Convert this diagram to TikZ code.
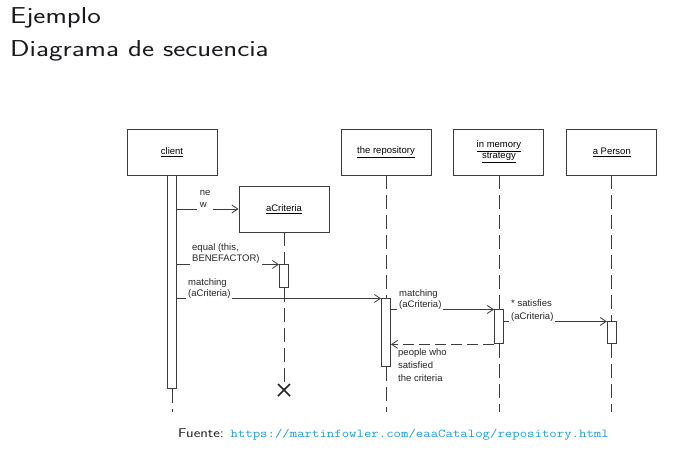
\documentclass[tikz,border=0pt]{standalone}
\usepackage{fontspec}
\usepackage{graphicx}
\usetikzlibrary{arrows.meta, positioning}
\newfontfamily\umlfont{Liberation Sans}
\definecolor{linegray}{RGB}{60,60,60}
\definecolor{urlcyan}{RGB}{25,160,220}
\definecolor{titleblack}{RGB}{25,25,30}
\newcommand{\wtxt}[1]{\scalebox{1.25}[1]{#1}}

\begin{document}
\begin{tikzpicture}[
  x=1pt, y=1pt,
  head/.style={
    rectangle, draw=linegray, fill=white, line width=0.9pt,
    minimum width=90pt, minimum height=46pt,
    font=\umlfont\fontsize{9.5}{11}\selectfont, align=center, inner sep=2pt},
  act/.style={rectangle, draw=linegray, fill=white, line width=0.9pt,
    minimum width=9pt, inner sep=0pt},
  msg/.style={-{Straight Barb[length=6pt,width=8pt]}, line width=0.8pt, linegray},
  ret/.style={msg, dash pattern=on 11pt off 5pt},
  life/.style={line width=0.8pt, linegray, dash pattern=on 14pt off 6pt},
  lbl/.style={font=\umlfont\fontsize{9.5}{11}\selectfont, text=black!85,
    align=left, anchor=base west, inner sep=2pt, fill=white}
]
  \useasboundingbox[fill=white] (0,0) rectangle (677,-448);
  % Title
  \node[anchor=base west, inner sep=0pt, text=titleblack,
    font=\sffamily\fontsize{23}{33}\selectfont, align=left] (title) at (10,-56)
    {\wtxt{Ejemplo}\\\wtxt{Diagrama de secuencia}};
  % Lifeline heads
  \node[head] (client) at (172,-152) {\underline{client}};
  \node[head] (repo) at (386,-152) {\underline{the repository}};
  \node[head, right=22pt of repo] (mem) {\underline{in memory}\\\underline{strategy}};
  \node[head, right=22pt of mem] (person) {\underline{a Person}};
  \node[head] (crit) at (284,-209) {\underline{aCriteria}};
  % Activations
  \node[act, minimum height=213pt, below=0pt of client] (clientA) {};
  \node[act, minimum height=23pt, below=32pt of crit] (critA) {};
  \node[act, minimum height=68pt, below=123pt of repo] (repoA) {};
  \node[act, minimum height=34pt, below=134pt of mem] (memA) {};
  \node[act, minimum height=22pt, below=146pt of person] (personA) {};
  \coordinate (bottom) at (0,-412);
  \coordinate (critX) at (critA |- 0,-390);
  % Lifelines
  \draw[life] (clientA.south) -- (clientA.south |- bottom);
  \draw[life] (crit) -- (critA.north);
  \draw[life] (critA.south) -- (critX);
  \draw[life] (repo) -- (repoA.north);
  \draw[life] (repoA.south) -- (repoA.south |- bottom);
  \draw[life] (mem) -- (memA.north);
  \draw[life] (memA.south) -- (memA.south |- bottom);
  \draw[life] (person) -- (personA.north);
  \draw[life] (personA.south) -- (personA.south |- bottom);
  \node[head] at (crit) {\underline{aCriteria}};
  \foreach \h/\t in {client/client, repo/the repository, person/a Person}
    \node[head] at (\h) {\underline{\t}};
  \node[head] at (mem) {\underline{in memory}\\\underline{strategy}};
  % Messages
  \draw[msg] (clientA.east |- crit.west) -- (crit.west);
  \node[lbl, font=\umlfont\fontsize{9.5}{12}\selectfont, inner sep=2.6pt] at (197,-207) {ne\\w};
  \draw[msg] (clientA.east |- critA.north) -- (critA.north west);
  \node[lbl, font=\umlfont\fontsize{9.5}{10.5}\selectfont] at (190,-261) {equal (this,\\BENEFACTOR)};
  \draw[msg] (clientA.east |- repoA.north) -- (repoA.north west);
  \node[lbl] at (186,-296) {matching\\(aCriteria)};
  \draw[msg] (repoA.east |- memA.north) -- (memA.north west);
  \node[lbl] at (397,-307) {matching\\(aCriteria)};
  \draw[msg] (memA.east |- personA.north) -- (personA.north west);
  \node[lbl, font=\umlfont\fontsize{9.5}{12.5}\selectfont] at (509,-319) {* satisfies\\(aCriteria)};
  \draw[ret] (memA.south west) -- (repoA.east |- memA.south);
  \node[lbl, fill=none, font=\umlfont\fontsize{9.5}{13}\selectfont] at (396,-381)
    {people who\\satisfied\\the criteria};
  % Destroy
  \draw[line width=1.6pt, black!85] (critX) +(-6,-6) -- +(6,6) (critX) +(-6,6) -- +(6,-6);
  % Source
  \node[anchor=base west, inner sep=0pt] (src) at (178,-437)
    {\scalebox{1.2}[1]{\sffamily\fontsize{12.6}{14}\selectfont\color{titleblack}Fuente:
      {\ttfamily\fontsize{12}{14}\selectfont\color{urlcyan}https://martinfowler.com/eaaCatalog/repository.html}}};
\end{tikzpicture}
\end{document}
